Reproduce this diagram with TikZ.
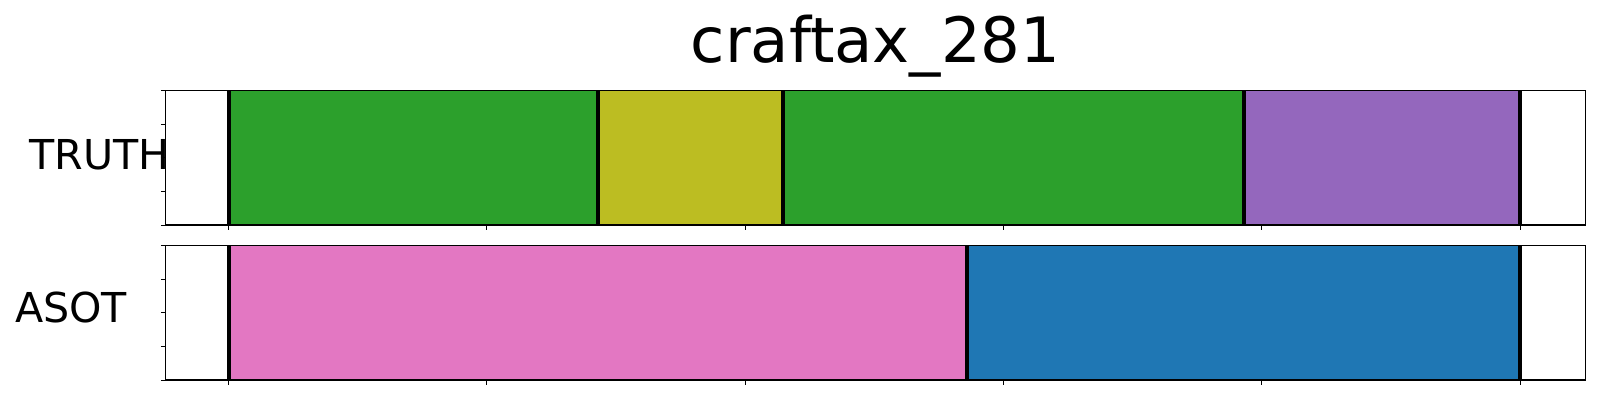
\documentclass[tikz,border=0pt]{standalone}
\usepackage{fontspec}
\setmainfont{DejaVu Sans}
\definecolor{tabgreen}{HTML}{2CA02C}
\definecolor{tabolive}{HTML}{BCBD22}
\definecolor{tabpurple}{HTML}{9467BD}
\definecolor{tabpink}{HTML}{E377C2}
\definecolor{tabblue}{HTML}{1F77B4}
\tikzset{
  bound/.style={draw=black,line width=4.2pt},
  spine/.style={draw=black,line width=1.1pt},
  tickmark/.style={draw=black,line width=1pt},
  lbl/.style={inner sep=0pt,anchor=base west,font=\fontsize{41.2}{45}\selectfont},
}
\begin{document}
\begin{tikzpicture}[x=1pt,y=-1pt]
\useasboundingbox (0,0) rectangle (1600,400);
\fill[white] (0,0) rectangle (1600,400);
% title
\node[inner sep=0pt,anchor=base,font=\fontsize{62.5}{70}\selectfont] (title) at (875.5,62.7) {craftax\_281};
% TRUTH row
\fill[tabgreen]  (228.7,90.3) rectangle (597.8,225);
\fill[tabolive]  (597.8,90.3) rectangle (783.2,225);
\fill[tabgreen]  (783.2,90.3) rectangle (1243.8,225);
\fill[tabpurple] (1243.8,90.3) rectangle (1520,225);
\foreach \x in {228.7,597.8,783.2,1243.8,1520}
  \draw[bound] (\x,90.3) -- (\x,225);
% ASOT row
\fill[tabpink] (228.7,245.3) rectangle (966.8,380);
\fill[tabblue] (966.8,245.3) rectangle (1520,380);
\foreach \x in {228.7,966.8,1520}
  \draw[bound] (\x,245.3) -- (\x,380);
% spines
\draw[spine] (165.7,90.3) rectangle (1585.7,225);
\draw[spine] (165.7,245.3) rectangle (1585.7,380);
% y ticks
\foreach \y in {90.3,124,157.6,191.3,225,245.3,279,312.6,346.3,380}
  \draw[tickmark] (160.8,\y) -- (165.7,\y);
% x ticks
\foreach \i in {0,...,5}{
  \draw[tickmark] ({228.7+\i*258.26},225) -- ({228.7+\i*258.26},229.9);
  \draw[tickmark] ({228.7+\i*258.26},380) -- ({228.7+\i*258.26},384.9);
}
% labels
\node[lbl] (truth) at (29,169.3) {TRUTH};
\node[lbl] (asot) at (15,322.7) {ASOT};
\end{tikzpicture}
\end{document}
